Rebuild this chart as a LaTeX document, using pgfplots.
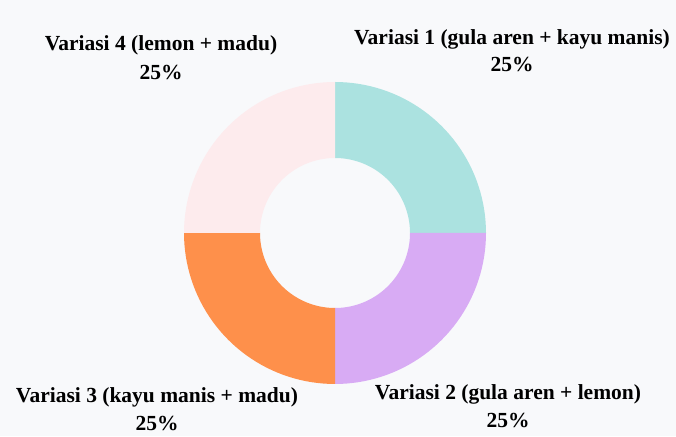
\documentclass[border=0pt]{standalone}
\usepackage{fontspec}
\setmainfont{Liberation Serif}
\usepackage{pgfplots}
\usepackage{pgfplotstable}
\pgfplotsset{compat=1.18}
\definecolor{bg}{HTML}{F8F9FB}
\definecolor{cA}{HTML}{ABE2E0}
\definecolor{cB}{HTML}{D8ABF4}
\definecolor{cC}{HTML}{FE904B}
\definecolor{cD}{HTML}{FDEBED}
\pgfplotstableread{
id value
1 25
2 25
3 25
4 25
}\shares
% donut geometry in pixel units
\def\cx{335}\def\cy{203}\def\Ro{151}\def\Ri{75}
\newcommand\donutwedge[3]{%
  \addplot[fill=#3, draw=none, samples at={0,1,...,81}, variable=\t]
    ({\cx + (\t<=40 ? \Ro : \Ri)*cos(#1 - 3.6*#2*(\t<=40 ? \t/40 : (81-\t)/40))},
     {\cy + (\t<=40 ? \Ro : \Ri)*sin(#1 - 3.6*#2*(\t<=40 ? \t/40 : (81-\t)/40))});
}
\tikzset{lab/.style={font=\fontsize{21.5}{24}\selectfont\bfseries, anchor=base, inner sep=0pt}}
\begin{document}%
\begin{tikzpicture}
\pgfplotstablegetelem{0}{value}\of\shares\pgfmathsetmacro\vA{\pgfplotsretval}
\pgfplotstablegetelem{1}{value}\of\shares\pgfmathsetmacro\vB{\pgfplotsretval}
\pgfplotstablegetelem{2}{value}\of\shares\pgfmathsetmacro\vC{\pgfplotsretval}
\pgfplotstablegetelem{3}{value}\of\shares\pgfmathsetmacro\vD{\pgfplotsretval}
\pgfmathsetmacro\aA{90}
\pgfmathsetmacro\aB{\aA-3.6*\vA}
\pgfmathsetmacro\aC{\aB-3.6*\vB}
\pgfmathsetmacro\aD{\aC-3.6*\vC}
\begin{axis}[name=ax,
  x=1pt, y=1pt, xmin=0, xmax=676, ymin=0, ymax=436,
  scale only axis, hide axis, clip=false,
  axis background/.style={fill=bg},
]
\donutwedge{\aA}{\vA}{cA}
\donutwedge{\aB}{\vB}{cB}
\donutwedge{\aC}{\vC}{cC}
\donutwedge{\aD}{\vD}{cD}
\node[lab] at (axis cs:512,391.5) {Variasi 1 (gula aren + kayu manis)};
\node[lab] at (axis cs:512,364.5) {25\%};
\node[lab] at (axis cs:508,36.5) {Variasi 2 (gula aren + lemon)};
\node[lab] at (axis cs:508,8.5) {25\%};
\node[lab] at (axis cs:157,33.5) {Variasi 3 (kayu manis + madu)};
\node[lab] at (axis cs:157,5.5) {25\%};
\node[lab] at (axis cs:161,385.5) {Variasi 4 (lemon + madu)};
\node[lab] at (axis cs:161,356.5) {25\%};
\end{axis}
\pgfresetboundingbox
\path[use as bounding box] (ax.south west) rectangle (ax.north east);
\end{tikzpicture}%
\end{document}
